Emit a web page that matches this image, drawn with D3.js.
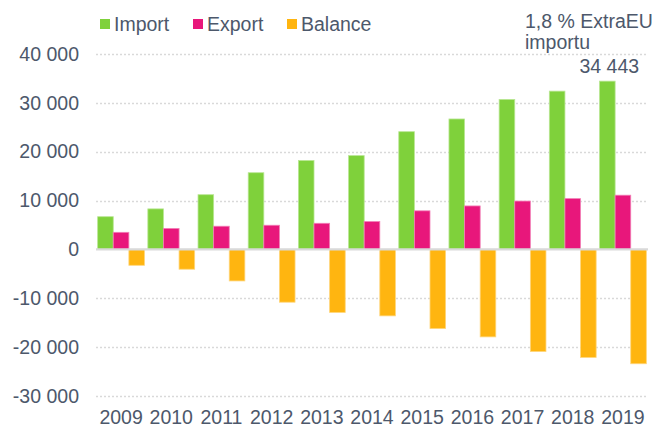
<!DOCTYPE html>
<html>
<head>
<meta charset="utf-8">
<script src="https://cdn.jsdelivr.net/npm/d3@7"></script>
<style>
  html, body { margin: 0; padding: 0; background: #fff; }
  svg { display: block; font-family: "Liberation Sans", Arial, sans-serif; }
</style>
</head>
<body>
<svg id="chart" width="654" height="428"></svg>
<script>
const years = ["2009","2010","2011","2012","2013","2014","2015","2016","2017","2018","2019"];
const importVals = [6700, 8300, 11200, 15700, 18200, 19200, 24100, 26700, 30700, 32400, 34443];
const exportVals = [3500, 4300, 4750, 4950, 5350, 5700, 7900, 8900, 9900, 10400, 11100];
const balanceVals = [-3250, -4050, -6450, -10800, -12900, -13600, -16200, -17900, -20900, -22100, -23400];
const seriesNames = ["Import", "Export", "Balance"];
const seriesColors = ["#7fd13b", "#e8177b", "#ffb510"];
const yTicks = [-30000, -20000, -10000, 0, 10000, 20000, 30000, 40000];
const annotationLines = ["1,8 % ExtraEU", "importu"];
const highlightLabel = "34 443";

const textColor = "#4d586b";
const fs = 19.5;
const svg = d3.select("#chart");

const locale = d3.formatLocale({decimal: ",", thousands: " ", grouping: [3], currency: ["", ""], minus: "-"});
const fmt = locale.format(",d");

const x0 = d3.scaleBand().domain(years).range([96, 648]).paddingInner(0.067).paddingOuter(0.033);
const x1 = d3.scaleBand().domain(seriesNames).range([0, x0.bandwidth()]);
const y = d3.scaleLinear().domain([-30000, 40000]).range([396, 54]);

// gridlines
const grid = svg.append("g");
grid.selectAll("line").data(yTicks.filter(d => d !== 0)).join("line")
  .attr("x1", 96).attr("x2", 648)
  .attr("y1", d => Math.round(y(d)) + 0.5).attr("y2", d => Math.round(y(d)) + 0.5)
  .attr("stroke", "#d9d9d9").attr("stroke-width", 1.3).attr("stroke-dasharray", "2,2");

// y axis labels
const yAxis = d3.axisLeft(y).tickValues(yTicks).tickFormat(fmt).tickSize(0).tickPadding(0);
const gy = svg.append("g").attr("transform", "translate(79,0)").call(yAxis);
gy.select(".domain").remove();
gy.selectAll("text").attr("fill", textColor).attr("font-size", fs).attr("font-family", "Liberation Sans, Arial, sans-serif");

// bars
const rows = years.map((yr, i) => ({year: yr, vals: [importVals[i], exportVals[i], balanceVals[i]]}));
const groups = svg.append("g").selectAll("g").data(rows).join("g")
  .attr("transform", d => `translate(${x0(d.year)},0)`);
groups.selectAll("rect").data(d => d.vals.map((v, j) => ({name: seriesNames[j], v, c: seriesColors[j]})))
  .join("rect")
  .attr("x", d => x1(d.name))
  .attr("width", x1.bandwidth())
  .attr("y", d => d.v >= 0 ? y(d.v) : y(0))
  .attr("height", d => Math.abs(y(d.v) - y(0)))
  .attr("fill", d => d.c)
  .attr("stroke", d => d3.interpolateRgb(d.c, "#ffffff")(0.45))
  .attr("stroke-width", 0.8);

// zero line
svg.append("line").attr("x1", 96).attr("x2", 648).attr("y1", y(0)).attr("y2", y(0))
  .attr("stroke", "#d9d9d9").attr("stroke-width", 2.2);

// x axis labels
const xAxis = d3.axisBottom(x0).tickSize(0).tickPadding(0);
const gx = svg.append("g").attr("transform", "translate(0,410)").call(xAxis);
gx.select(".domain").remove();
gx.selectAll("text").attr("fill", textColor).attr("font-size", fs).attr("font-family", "Liberation Sans, Arial, sans-serif");

// legend
const legendX = [100, 193, 287];
const legend = svg.append("g");
seriesNames.forEach((n, i) => {
  legend.append("rect").attr("x", legendX[i]).attr("y", 19).attr("width", 10).attr("height", 10).attr("fill", seriesColors[i]);
  legend.append("text").attr("x", legendX[i] + 14).attr("y", 31).text(n)
    .attr("fill", textColor).attr("font-size", fs);
});

// annotation
annotationLines.forEach((t, i) => {
  svg.append("text").attr("x", 525).attr("y", 28 + i * 21).text(t).attr("fill", textColor).attr("font-size", fs);
});
const lastYear = years[years.length - 1];
svg.append("text")
  .attr("x", x0(lastYear) + x1("Import") + x1.bandwidth() / 2 + 2)
  .attr("y", y(importVals[importVals.length - 1]) - 8)
  .attr("text-anchor", "middle").text(highlightLabel)
  .attr("fill", textColor).attr("font-size", fs);
</script>
</body>
</html>
